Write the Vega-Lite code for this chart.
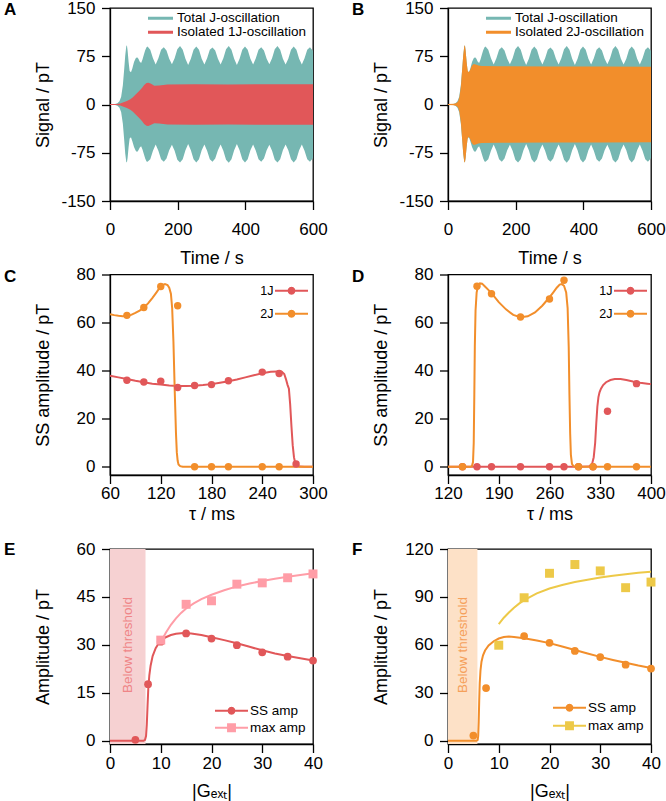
{
  "$schema": "https://vega.github.io/schema/vega-lite/v6.json",
  "padding": {"left": 3, "top": -2, "right": 0, "bottom": 0},
  "config": {
    "font": "Liberation Sans",
    "view": {"stroke": "#000", "strokeWidth": 1.3},
    "axis": {"labelFont": "Liberation Sans", "labelFontSize": 17, "labelColor": "#000", "titleFont": "Liberation Sans", "titleFontSize": 18, "titleFontWeight": "normal", "titleColor": "#000", "tickColor": "#000", "tickSize": 8.5, "tickWidth": 1.3, "domainColor": "#000", "domainWidth": 1.3, "grid": false, "labelFlush": false, "labelOverlap": false},
    "legend": {"labelFont": "Liberation Sans", "labelColor": "#000"},
    "title": {"font": "Liberation Sans", "color": "#000"}
  },
  "datasets": {
    "total": [
      {"t":0,"hi":0.5,"lo":-0.5},{"t":15,"hi":0.6,"lo":-0.6},{"t":22,"hi":2,"lo":-2},{"t":28,"hi":5,"lo":-5},{"t":33,"hi":12,"lo":-12},{"t":38,"hi":30,"lo":-30},{"t":42,"hi":55,"lo":-55},{"t":45,"hi":76,"lo":-76},{"t":48,"hi":90,"lo":-89},{"t":50,"hi":92,"lo":-90},{"t":52,"hi":84,"lo":-83},{"t":55,"hi":66,"lo":-66},{"t":58,"hi":52,"lo":-53},{"t":62,"hi":50,"lo":-51},{"t":66,"hi":56,"lo":-57},{"t":71,"hi":66,"lo":-66},{"t":76,"hi":72,"lo":-72},{"t":80,"hi":73.5,"lo":-74},{"t":84,"hi":71,"lo":-71},{"t":88,"hi":66.5,"lo":-67},{"t":92,"hi":64.5,"lo":-65},{"t":96,"hi":70,"lo":-70},{"t":100,"hi":77.5,"lo":-77},{"t":104,"hi":84.5,"lo":-84},{"t":108,"hi":89,"lo":-88.5},{"t":111,"hi":90,"lo":-89},
      {"t":119,"hi":85,"lo":-85},{"t":127,"hi":72,"lo":-72},{"t":135,"hi":62,"lo":-62},{"t":143,"hi":72,"lo":-72},{"t":151,"hi":85,"lo":-85},{"t":159,"hi":89,"lo":-89},{"t":167,"hi":84,"lo":-84},{"t":175,"hi":71,"lo":-71},{"t":183,"hi":62.5,"lo":-62.5},{"t":191,"hi":72,"lo":-72},{"t":199,"hi":86,"lo":-86},{"t":207,"hi":91,"lo":-90},{"t":215,"hi":85,"lo":-85},{"t":223,"hi":71,"lo":-71},{"t":231,"hi":61.5,"lo":-61.5},{"t":239,"hi":71,"lo":-71},{"t":247,"hi":85,"lo":-85},{"t":255,"hi":90,"lo":-90},{"t":263,"hi":85,"lo":-85},{"t":271,"hi":71,"lo":-71},{"t":279,"hi":62,"lo":-62},{"t":287,"hi":72,"lo":-72},{"t":295,"hi":85,"lo":-85},{"t":303,"hi":88.5,"lo":-89},{"t":311,"hi":84,"lo":-84},{"t":319,"hi":71,"lo":-71},{"t":327,"hi":62,"lo":-62},{"t":335,"hi":72,"lo":-72},{"t":343,"hi":86,"lo":-86},{"t":351,"hi":91,"lo":-90.5},{"t":359,"hi":85,"lo":-85},{"t":367,"hi":71,"lo":-71},{"t":375,"hi":61.5,"lo":-61.5},{"t":383,"hi":71,"lo":-71},{"t":391,"hi":85,"lo":-85},{"t":399,"hi":90,"lo":-90},{"t":407,"hi":85,"lo":-85},{"t":415,"hi":71,"lo":-71},{"t":423,"hi":62,"lo":-62},{"t":431,"hi":72,"lo":-72},{"t":439,"hi":85,"lo":-85},{"t":447,"hi":89,"lo":-89},{"t":455,"hi":84,"lo":-84},{"t":463,"hi":71,"lo":-71},{"t":471,"hi":62.5,"lo":-62.5},{"t":479,"hi":72,"lo":-72},{"t":487,"hi":86,"lo":-86},{"t":495,"hi":91,"lo":-90},{"t":503,"hi":85,"lo":-85},{"t":511,"hi":71,"lo":-71},{"t":519,"hi":62,"lo":-62},{"t":527,"hi":71,"lo":-71},{"t":535,"hi":85,"lo":-85},{"t":543,"hi":90,"lo":-90},{"t":551,"hi":85,"lo":-85},{"t":559,"hi":71,"lo":-71},{"t":567,"hi":62,"lo":-62},{"t":575,"hi":72,"lo":-72},{"t":583,"hi":85,"lo":-85},{"t":591,"hi":89,"lo":-89},{"t":599,"hi":84,"lo":-84},{"t":600,"hi":83,"lo":-83}
    ],
    "iso1": [
      {"t":0,"hi":0.8,"lo":-0.8},{"t":20,"hi":0.8,"lo":-0.8},{"t":30,"hi":1.5,"lo":-1.5},{"t":40,"hi":3.5,"lo":-3.5},{"t":50,"hi":5.5,"lo":-5.5},{"t":60,"hi":8,"lo":-8},{"t":67,"hi":11,"lo":-11},{"t":75,"hi":15,"lo":-15},{"t":87,"hi":21.5,"lo":-21.5},{"t":95,"hi":26,"lo":-26},{"t":101,"hi":30.5,"lo":-30.5},{"t":108,"hi":33.5,"lo":-33},{"t":113,"hi":34,"lo":-33.5},{"t":120,"hi":32.5,"lo":-32},{"t":131,"hi":29,"lo":-29},{"t":145,"hi":29.5,"lo":-29.5},{"t":170,"hi":31,"lo":-31},{"t":250,"hi":31.5,"lo":-31.5},{"t":350,"hi":31.2,"lo":-31.2},{"t":450,"hi":31.5,"lo":-31.5},{"t":600,"hi":31.3,"lo":-31.3}
    ],
    "iso2": [
      {"t":0,"hi":0.8,"lo":-0.8},{"t":18,"hi":1,"lo":-1},{"t":25,"hi":2.5,"lo":-2.5},{"t":30,"hi":5,"lo":-5},{"t":34,"hi":12,"lo":-12},{"t":38,"hi":28,"lo":-28},{"t":42,"hi":55,"lo":-55},{"t":45,"hi":76,"lo":-76},{"t":48,"hi":90,"lo":-89},{"t":50,"hi":92,"lo":-90},{"t":52,"hi":84,"lo":-83},{"t":55,"hi":66,"lo":-66},{"t":58,"hi":53,"lo":-53},{"t":61,"hi":50,"lo":-50},{"t":65,"hi":53,"lo":-53},{"t":70,"hi":60,"lo":-60},{"t":76,"hi":63,"lo":-63},{"t":82,"hi":62,"lo":-62},{"t":90,"hi":60.5,"lo":-60.5},{"t":100,"hi":60,"lo":-60},{"t":150,"hi":59.5,"lo":-59.5},{"t":300,"hi":59,"lo":-59},{"t":450,"hi":59,"lo":-59},{"t":600,"hi":58.5,"lo":-58.5}
    ],
    "legA": [{"s":"Total J-oscillation"},{"s":"Isolated 1J-oscillation"}],
    "legB": [{"s":"Total J-oscillation"},{"s":"Isolated 2J-oscillation"}],
    "legCD": [{"s":"1J"},{"s":"2J"}],
    "legEF": [{"s":"SS amp"},{"s":"max amp"}],
    "cR": [{"x":60,"y":37.9},{"x":70,"y":37.2},{"x":80,"y":36.5},{"x":90,"y":35.8},{"x":100,"y":35.2},{"x":110,"y":34.6},{"x":120,"y":34.2},{"x":130,"y":33.8},{"x":140,"y":33.6},{"x":150,"y":33.6},{"x":160,"y":33.7},{"x":170,"y":34},{"x":180,"y":34.4},{"x":190,"y":35},{"x":200,"y":35.6},{"x":210,"y":36.3},{"x":220,"y":37.2},{"x":230,"y":38.1},{"x":240,"y":38.9},{"x":250,"y":39.5},{"x":258,"y":39.7},{"x":263,"y":39.6},{"x":266,"y":38.6},{"x":268,"y":36.5},{"x":270,"y":34},{"x":271.5,"y":32.5},{"x":273,"y":26},{"x":274.5,"y":17},{"x":276,"y":9},{"x":277.5,"y":4},{"x":279,"y":1.5},{"x":281,"y":0.5},{"x":284,"y":0.1},{"x":290,"y":0},{"x":300,"y":0}],
    "cO": [{"x":60,"y":63.5},{"x":65,"y":63.1},{"x":70,"y":62.8},{"x":75,"y":62.6},{"x":80,"y":62.7},{"x":85,"y":63.2},{"x":90,"y":64},{"x":95,"y":65},{"x":100,"y":66.3},{"x":105,"y":68},{"x":110,"y":70.2},{"x":115,"y":72.6},{"x":119,"y":74.6},{"x":122,"y":75.6},{"x":125,"y":76},{"x":128,"y":75.6},{"x":130,"y":74.5},{"x":132,"y":72},{"x":133.5,"y":66},{"x":135,"y":52},{"x":136.5,"y":32},{"x":138,"y":14},{"x":139,"y":6},{"x":140,"y":2.5},{"x":141,"y":1},{"x":143,"y":0.3},{"x":146,"y":0},{"x":300,"y":0}],
    "cRp": [{"x":80,"y":36},{"x":100,"y":35.3},{"x":120,"y":35.6},{"x":140,"y":33},{"x":160,"y":33.8},{"x":180,"y":34.2},{"x":200,"y":35.8},{"x":240,"y":39.4},{"x":260,"y":38.8},{"x":280,"y":1.2}],
    "cOp": [{"x":80,"y":63},{"x":100,"y":66.3},{"x":120,"y":75},{"x":140,"y":67},{"x":160,"y":0},{"x":180,"y":0},{"x":200,"y":0},{"x":240,"y":0},{"x":260,"y":0}],
    "dR": [{"x":120,"y":0},{"x":200,"y":0},{"x":300,"y":0},{"x":314,"y":0.1},{"x":317,"y":0.5},{"x":319,"y":1.5},{"x":321,"y":4},{"x":323,"y":10},{"x":324.5,"y":18},{"x":326,"y":25},{"x":327.5,"y":29},{"x":329,"y":31},{"x":331,"y":32.5},{"x":334,"y":34},{"x":338,"y":35.2},{"x":344,"y":36.1},{"x":350,"y":36.5},{"x":358,"y":36.5},{"x":366,"y":36.1},{"x":375,"y":35.5},{"x":385,"y":35},{"x":395,"y":34.6},{"x":400,"y":34.4}],
    "dO": [{"x":120,"y":0},{"x":150,"y":0},{"x":153,"y":0.3},{"x":154.5,"y":2},{"x":155.5,"y":10},{"x":156.3,"y":30},{"x":157,"y":50},{"x":158,"y":65},{"x":159.5,"y":72.5},{"x":161.5,"y":75.5},{"x":164,"y":76.3},{"x":167,"y":76.2},{"x":171,"y":75},{"x":176,"y":73.5},{"x":182,"y":71.5},{"x":190,"y":68.5},{"x":200,"y":65.5},{"x":210,"y":63.2},{"x":220,"y":62.2},{"x":230,"y":62.6},{"x":240,"y":64.2},{"x":250,"y":67},{"x":258,"y":69.8},{"x":265,"y":72.5},{"x":270,"y":74.5},{"x":274,"y":75.8},{"x":277,"y":76},{"x":280,"y":75.3},{"x":283,"y":72.5},{"x":285,"y":66},{"x":286.5,"y":50},{"x":287.5,"y":30},{"x":288.5,"y":14},{"x":289.5,"y":5},{"x":291,"y":1.2},{"x":293,"y":0.3},{"x":296,"y":0},{"x":400,"y":0}],
    "dRp": [{"x":140,"y":0},{"x":160,"y":0},{"x":180,"y":0},{"x":220,"y":0},{"x":260,"y":0},{"x":280,"y":0},{"x":300,"y":0},{"x":320,"y":0},{"x":340,"y":23.1},{"x":380,"y":34.6}],
    "dOp": [{"x":140,"y":0},{"x":160,"y":75.1},{"x":180,"y":72},{"x":220,"y":62.3},{"x":260,"y":69.8},{"x":280,"y":77.6},{"x":300,"y":0},{"x":320,"y":0},{"x":340,"y":0},{"x":380,"y":0}],
    "eShade": [{"x":0,"x2":7,"y":-1,"y2":60}],
    "eText": [{"x":3.5,"y":30,"label":"Below threshold"}],
    "eR": [{"x":0,"y":0},{"x":6.6,"y":0},{"x":6.9,"y":0.3},{"x":7.1,"y":1.5},{"x":7.25,"y":5},{"x":7.4,"y":11},{"x":7.55,"y":16.5},{"x":7.75,"y":20.5},{"x":8,"y":23.5},{"x":8.4,"y":26.5},{"x":9,"y":29},{"x":9.6,"y":30.5},{"x":10.3,"y":31.6},{"x":11,"y":32.4},{"x":12,"y":33.1},{"x":13,"y":33.5},{"x":14.5,"y":33.7},{"x":16,"y":33.6},{"x":18,"y":33.1},{"x":20,"y":32.4},{"x":22.5,"y":31.5},{"x":25,"y":30.5},{"x":27.5,"y":29.4},{"x":30,"y":28.3},{"x":32.5,"y":27.3},{"x":35,"y":26.5},{"x":37.5,"y":25.8},{"x":40,"y":25.1}],
    "eP": [{"x":10,"y":30.5},{"x":10.5,"y":32.3},{"x":11,"y":33.8},{"x":12,"y":36.3},{"x":13,"y":38.3},{"x":14,"y":40},{"x":15,"y":41.4},{"x":16.5,"y":43},{"x":18,"y":44.3},{"x":20,"y":45.7},{"x":22.5,"y":47.1},{"x":25,"y":48.3},{"x":27.5,"y":49.2},{"x":30,"y":50},{"x":32.5,"y":50.7},{"x":35,"y":51.3},{"x":37.5,"y":51.9},{"x":40,"y":52.4}],
    "eRp": [{"x":5,"y":0.3},{"x":7.5,"y":17.7},{"x":10,"y":31},{"x":15,"y":33.6},{"x":20,"y":32},{"x":25,"y":29.9},{"x":30,"y":27.7},{"x":35,"y":26.3},{"x":40,"y":25.1}],
    "ePp": [{"x":10,"y":31.5},{"x":15,"y":42.7},{"x":20,"y":43.8},{"x":25,"y":49},{"x":30,"y":49.4},{"x":35,"y":51},{"x":40,"y":52.2}],
    "fShade": [{"x":0,"x2":5.8,"y":-2,"y2":120}],
    "fText": [{"x":2.9,"y":60,"label":"Below threshold"}],
    "fO": [{"x":0,"y":0},{"x":5.6,"y":0},{"x":5.85,"y":0.5},{"x":5.95,"y":3},{"x":6.05,"y":12},{"x":6.15,"y":25},{"x":6.25,"y":36},{"x":6.4,"y":44},{"x":6.6,"y":49.5},{"x":6.9,"y":53.5},{"x":7.3,"y":56.5},{"x":8,"y":59.6},{"x":9,"y":62.3},{"x":10,"y":64},{"x":11,"y":64.9},{"x":12,"y":65.2},{"x":13,"y":65},{"x":15,"y":64.2},{"x":17.5,"y":62.8},{"x":20,"y":61.1},{"x":22.5,"y":59},{"x":25,"y":56.8},{"x":27.5,"y":54.6},{"x":30,"y":52.5},{"x":32.5,"y":50.6},{"x":35,"y":48.8},{"x":37.5,"y":47.1},{"x":40,"y":45.6}],
    "fY": [{"x":10,"y":73},{"x":11,"y":77},{"x":12,"y":80.3},{"x":13,"y":83.2},{"x":14,"y":85.8},{"x":15,"y":88},{"x":17.5,"y":92.2},{"x":20,"y":95.3},{"x":22.5,"y":97.5},{"x":25,"y":99.3},{"x":27.5,"y":100.8},{"x":30,"y":102.1},{"x":32.5,"y":103.2},{"x":35,"y":104.2},{"x":37.5,"y":105.1},{"x":40,"y":105.8}],
    "fOp": [{"x":5,"y":3.3},{"x":7.5,"y":33},{"x":10,"y":60},{"x":15,"y":65.5},{"x":20,"y":61.3},{"x":25,"y":56.2},{"x":30,"y":52.4},{"x":35,"y":47.6},{"x":40,"y":45.2}],
    "fYp": [{"x":10,"y":59.8},{"x":15,"y":89.5},{"x":20,"y":104.8},{"x":25,"y":110.3},{"x":30,"y":106.3},{"x":35,"y":95.8},{"x":40,"y":99.3}]
  },
  "columns": 2,
  "bounds": "flush",
  "spacing": {"row": 73.5, "column": 135},
  "resolve": {"scale": {"color": "independent", "shape": "independent"}},
  "concat": [
    {
      "width": 203, "height": 193,
      "title": {"text": "A", "anchor": "start", "frame": "group", "offset": 0, "dx": -106, "dy": 28, "baseline": "middle", "fontSize": 17, "fontWeight": "bold"},
      "encoding": {
        "x": {"field": "t", "type": "quantitative", "scale": {"domain": [0, 600], "nice": false, "zero": false}, "axis": {"values": [0, 200, 400, 600], "title": "Time / s", "titleY": 57, "titleBaseline": "middle", "labelPadding": 12}},
        "y": {"field": "hi", "type": "quantitative", "scale": {"domain": [-150, 150], "nice": false, "zero": false}, "axis": {"values": [-150, -75, 0, 75, 150], "title": "Signal / pT", "titleX": -67, "titleBaseline": "middle", "labelPadding": 6.5, "labelExpr": "replace(datum.label, '\u2212', '-')"}}
      },
      "layer": [
        {"data": {"name": "total"}, "mark": {"type": "area", "color": "#76b7b2", "opacity": 1}, "encoding": {"y2": {"field": "lo"}}},
        {"data": {"name": "iso1"}, "mark": {"type": "area", "color": "#e15759", "opacity": 1}, "encoding": {"y2": {"field": "lo"}}},
        {"data": {"name": "legA"}, "mark": {"type": "point", "filled": true, "opacity": 0},
         "encoding": {"color": {"field": "s", "type": "nominal", "scale": {"domain": ["Total J-oscillation", "Isolated 1J-oscillation"], "range": ["#76b7b2", "#e15759"]},
           "legend": {"title": null, "orient": "none", "legendX": 38, "legendY": 4.3, "clipHeight": 12, "symbolType": "M-1,-0.12L1,-0.12L1,0.12L-1,0.12Z", "symbolSize": 625, "symbolStrokeWidth": 0, "symbolOpacity": 1, "labelOffset": 4, "labelFontSize": 13.5, "rowPadding": 0, "padding": 0}}}}
      ]
    },
    {
      "width": 203, "height": 193,
      "title": {"text": "B", "anchor": "start", "frame": "group", "offset": 0, "dx": -96, "dy": 28, "baseline": "middle", "fontSize": 17, "fontWeight": "bold"},
      "encoding": {
        "x": {"field": "t", "type": "quantitative", "scale": {"domain": [0, 600], "nice": false, "zero": false}, "axis": {"values": [0, 200, 400, 600], "title": "Time / s", "titleY": 57, "titleBaseline": "middle", "labelPadding": 12}},
        "y": {"field": "hi", "type": "quantitative", "scale": {"domain": [-150, 150], "nice": false, "zero": false}, "axis": {"values": [-150, -75, 0, 75, 150], "title": "Signal / pT", "titleX": -67, "titleBaseline": "middle", "labelPadding": 6.5, "labelExpr": "replace(datum.label, '\u2212', '-')"}}
      },
      "layer": [
        {"data": {"name": "total"}, "mark": {"type": "area", "color": "#76b7b2", "opacity": 1}, "encoding": {"y2": {"field": "lo"}}},
        {"data": {"name": "iso2"}, "mark": {"type": "area", "color": "#f28e2b", "opacity": 1}, "encoding": {"y2": {"field": "lo"}}},
        {"data": {"name": "legB"}, "mark": {"type": "point", "filled": true, "opacity": 0},
         "encoding": {"color": {"field": "s", "type": "nominal", "scale": {"domain": ["Total J-oscillation", "Isolated 2J-oscillation"], "range": ["#76b7b2", "#f28e2b"]},
           "legend": {"title": null, "orient": "none", "legendX": 38, "legendY": 4.3, "clipHeight": 12, "symbolType": "M-1,-0.12L1,-0.12L1,0.12L-1,0.12Z", "symbolSize": 625, "symbolStrokeWidth": 0, "symbolOpacity": 1, "labelOffset": 4, "labelFontSize": 13.5, "rowPadding": 0, "padding": 0}}}}
      ]
    },
    {
      "width": 203, "height": 200.5,
      "title": {"text": "C", "anchor": "start", "frame": "group", "offset": 0, "dx": -106, "dy": 28, "baseline": "middle", "fontSize": 17, "fontWeight": "bold"},
      "encoding": {
        "x": {"field": "x", "type": "quantitative", "scale": {"domain": [60, 300], "nice": false, "zero": false}, "axis": {"values": [60, 120, 180, 240, 300], "title": "τ / ms", "titleY": 39.5, "titleBaseline": "middle", "labelPadding": 1.5}},
        "y": {"field": "y", "type": "quantitative", "scale": {"domain": [-3.4, 80], "nice": false, "zero": false}, "axis": {"values": [0, 20, 40, 60, 80], "title": "SS amplitude / pT", "titleX": -67, "titleBaseline": "middle", "labelPadding": 6.5}}
      },
      "layer": [
        {"data": {"name": "cR"}, "mark": {"type": "line", "color": "#e15759", "strokeWidth": 2}},
        {"data": {"name": "cO"}, "mark": {"type": "line", "color": "#f28e2b", "strokeWidth": 2}},
        {"data": {"name": "cRp"}, "mark": {"type": "point", "shape": "circle", "filled": true, "size": 55, "color": "#e15759", "opacity": 1}},
        {"data": {"name": "cOp"}, "mark": {"type": "point", "shape": "circle", "filled": true, "size": 55, "color": "#f28e2b", "opacity": 1}},
        {"data": {"name": "legCD"}, "mark": {"type": "point", "filled": true, "opacity": 0},
         "encoding": {"color": {"field": "s", "type": "nominal", "scale": {"domain": ["1J", "2J"], "range": ["#e15759", "#f28e2b"]},
           "legend": {"title": null, "orient": "none", "legendX": 165, "legendY": -0.3, "symbolType": "M-1,-0.06L1,-0.06L1,0.06L-1,0.06Z M0.24,0L0.208,0.12L0.12,0.208L0,0.24L-0.12,0.208L-0.208,0.12L-0.24,0L-0.208,-0.12L-0.12,-0.208L0,-0.24L0.12,-0.208L0.208,-0.12Z", "symbolSize": 1089, "symbolStrokeWidth": 0, "symbolOpacity": 1, "labelAlign": "right", "labelOffset": -34.5, "labelFontSize": 12.5, "rowPadding": -5, "padding": 0}}}}
      ]
    },
    {
      "width": 203, "height": 200.5,
      "title": {"text": "D", "anchor": "start", "frame": "group", "offset": 0, "dx": -96, "dy": 28, "baseline": "middle", "fontSize": 17, "fontWeight": "bold"},
      "encoding": {
        "x": {"field": "x", "type": "quantitative", "scale": {"domain": [120, 400], "nice": false, "zero": false}, "axis": {"values": [120, 190, 260, 330, 400], "title": "τ / ms", "titleY": 39.5, "titleBaseline": "middle", "labelPadding": 1.5}},
        "y": {"field": "y", "type": "quantitative", "scale": {"domain": [-3.4, 80], "nice": false, "zero": false}, "axis": {"values": [0, 20, 40, 60, 80], "title": "SS amplitude / pT", "titleX": -67, "titleBaseline": "middle", "labelPadding": 6.5}}
      },
      "layer": [
        {"data": {"name": "dR"}, "mark": {"type": "line", "color": "#e15759", "strokeWidth": 2}},
        {"data": {"name": "dO"}, "mark": {"type": "line", "color": "#f28e2b", "strokeWidth": 2}},
        {"data": {"name": "dRp"}, "mark": {"type": "point", "shape": "circle", "filled": true, "size": 55, "color": "#e15759", "opacity": 1}},
        {"data": {"name": "dOp"}, "mark": {"type": "point", "shape": "circle", "filled": true, "size": 55, "color": "#f28e2b", "opacity": 1}},
        {"data": {"name": "legCD"}, "mark": {"type": "point", "filled": true, "opacity": 0},
         "encoding": {"color": {"field": "s", "type": "nominal", "scale": {"domain": ["1J", "2J"], "range": ["#e15759", "#f28e2b"]},
           "legend": {"title": null, "orient": "none", "legendX": 166, "legendY": -0.3, "symbolType": "M-1,-0.06L1,-0.06L1,0.06L-1,0.06Z M0.24,0L0.208,0.12L0.12,0.208L0,0.24L-0.12,0.208L-0.208,0.12L-0.24,0L-0.208,-0.12L-0.12,-0.208L0,-0.24L0.12,-0.208L0.208,-0.12Z", "symbolSize": 1089, "symbolStrokeWidth": 0, "symbolOpacity": 1, "labelAlign": "right", "labelOffset": -34.5, "labelFontSize": 12.5, "rowPadding": -5, "padding": 0}}}}
      ]
    },
    {
      "width": 203, "height": 195,
      "title": {"text": "E", "anchor": "start", "frame": "group", "offset": 0, "dx": -106, "dy": 27, "baseline": "middle", "fontSize": 17, "fontWeight": "bold"},
      "encoding": {
        "x": {"field": "x", "type": "quantitative", "scale": {"domain": [0, 40], "nice": false, "zero": false}, "axis": {"values": [0, 10, 20, 30, 40], "title": "|Gₑₓₜ|", "titleY": 47, "titleBaseline": "middle", "labelPadding": 3}},
        "y": {"field": "y", "type": "quantitative", "scale": {"domain": [-1, 60], "nice": false, "zero": false}, "axis": {"values": [0, 15, 30, 45, 60], "title": "Amplitude / pT", "titleX": -67, "titleBaseline": "middle", "labelPadding": 6.5}}
      },
      "layer": [
        {"data": {"name": "eShade"}, "mark": {"type": "rect", "color": "#f6d1d2"}, "encoding": {"x2": {"field": "x2"}, "y2": {"field": "y2"}}},
        {"data": {"name": "eText"}, "mark": {"type": "text", "angle": 270, "fontSize": 13.5, "color": "#ef8587", "align": "center", "baseline": "middle"}, "encoding": {"text": {"field": "label"}}},
        {"data": {"name": "eR"}, "mark": {"type": "line", "color": "#e15759", "strokeWidth": 2}},
        {"data": {"name": "eP"}, "mark": {"type": "line", "color": "#ff9da7", "strokeWidth": 2}},
        {"data": {"name": "eRp"}, "mark": {"type": "point", "shape": "circle", "filled": true, "size": 60, "color": "#e15759", "opacity": 1}},
        {"data": {"name": "ePp"}, "mark": {"type": "point", "shape": "square", "filled": true, "size": 80, "color": "#ff9da7", "opacity": 1}},
        {"data": {"name": "legEF"}, "mark": {"type": "point", "filled": true, "opacity": 0},
         "encoding": {
           "color": {"field": "s", "type": "nominal", "scale": {"domain": ["SS amp", "max amp"], "range": ["#e15759", "#ff9da7"]},
             "legend": {"title": null, "orient": "none", "legendX": 105, "legendY": 153.3, "clipHeight": 16.8, "symbolSize": 1089, "symbolStrokeWidth": 0, "symbolOpacity": 1, "labelOffset": 2, "labelFontSize": 13.5, "rowPadding": 0, "padding": 0}},
           "shape": {"field": "s", "type": "nominal", "scale": {"domain": ["SS amp", "max amp"], "range": ["M-1,-0.06L1,-0.06L1,0.06L-1,0.06Z M0.24,0L0.208,0.12L0.12,0.208L0,0.24L-0.12,0.208L-0.208,0.12L-0.24,0L-0.208,-0.12L-0.12,-0.208L0,-0.24L0.12,-0.208L0.208,-0.12Z", "M-1,-0.06L1,-0.06L1,0.06L-1,0.06Z M-0.27,-0.27L0.27,-0.27L0.27,0.27L-0.27,0.27Z"]},
             "legend": {"title": null, "orient": "none", "legendX": 105, "legendY": 153.3, "clipHeight": 16.8, "symbolSize": 1089, "symbolStrokeWidth": 0, "symbolOpacity": 1, "labelOffset": 2, "labelFontSize": 13.5, "rowPadding": 0, "padding": 0}}
         }}
      ]
    },
    {
      "width": 203, "height": 195,
      "title": {"text": "F", "anchor": "start", "frame": "group", "offset": 0, "dx": -96, "dy": 27, "baseline": "middle", "fontSize": 17, "fontWeight": "bold"},
      "encoding": {
        "x": {"field": "x", "type": "quantitative", "scale": {"domain": [0, 40], "nice": false, "zero": false}, "axis": {"values": [0, 10, 20, 30, 40], "title": "|Gₑₓₜ|", "titleY": 47, "titleBaseline": "middle", "labelPadding": 3}},
        "y": {"field": "y", "type": "quantitative", "scale": {"domain": [-2, 120], "nice": false, "zero": false}, "axis": {"values": [0, 30, 60, 90, 120], "title": "Amplitude / pT", "titleX": -67, "titleBaseline": "middle", "labelPadding": 6.5}}
      },
      "layer": [
        {"data": {"name": "fShade"}, "mark": {"type": "rect", "color": "#fde1c7"}, "encoding": {"x2": {"field": "x2"}, "y2": {"field": "y2"}}},
        {"data": {"name": "fText"}, "mark": {"type": "text", "angle": 270, "fontSize": 13.5, "color": "#f5a05a", "align": "center", "baseline": "middle"}, "encoding": {"text": {"field": "label"}}},
        {"data": {"name": "fO"}, "mark": {"type": "line", "color": "#f28e2b", "strokeWidth": 2}},
        {"data": {"name": "fY"}, "mark": {"type": "line", "color": "#edc948", "strokeWidth": 2}},
        {"data": {"name": "fOp"}, "mark": {"type": "point", "shape": "circle", "filled": true, "size": 60, "color": "#f28e2b", "opacity": 1}},
        {"data": {"name": "fYp"}, "mark": {"type": "point", "shape": "square", "filled": true, "size": 80, "color": "#edc948", "opacity": 1}},
        {"data": {"name": "legEF"}, "mark": {"type": "point", "filled": true, "opacity": 0},
         "encoding": {
           "color": {"field": "s", "type": "nominal", "scale": {"domain": ["SS amp", "max amp"], "range": ["#f28e2b", "#edc948"]},
             "legend": {"title": null, "orient": "none", "legendX": 105, "legendY": 150, "clipHeight": 17.4, "symbolSize": 1089, "symbolStrokeWidth": 0, "symbolOpacity": 1, "labelOffset": 2, "labelFontSize": 13.5, "rowPadding": 0, "padding": 0}},
           "shape": {"field": "s", "type": "nominal", "scale": {"domain": ["SS amp", "max amp"], "range": ["M-1,-0.06L1,-0.06L1,0.06L-1,0.06Z M0.24,0L0.208,0.12L0.12,0.208L0,0.24L-0.12,0.208L-0.208,0.12L-0.24,0L-0.208,-0.12L-0.12,-0.208L0,-0.24L0.12,-0.208L0.208,-0.12Z", "M-1,-0.06L1,-0.06L1,0.06L-1,0.06Z M-0.27,-0.27L0.27,-0.27L0.27,0.27L-0.27,0.27Z"]},
             "legend": {"title": null, "orient": "none", "legendX": 105, "legendY": 150, "clipHeight": 17.4, "symbolSize": 1089, "symbolStrokeWidth": 0, "symbolOpacity": 1, "labelOffset": 2, "labelFontSize": 13.5, "rowPadding": 0, "padding": 0}}
         }}
      ]
    }
  ]
}
